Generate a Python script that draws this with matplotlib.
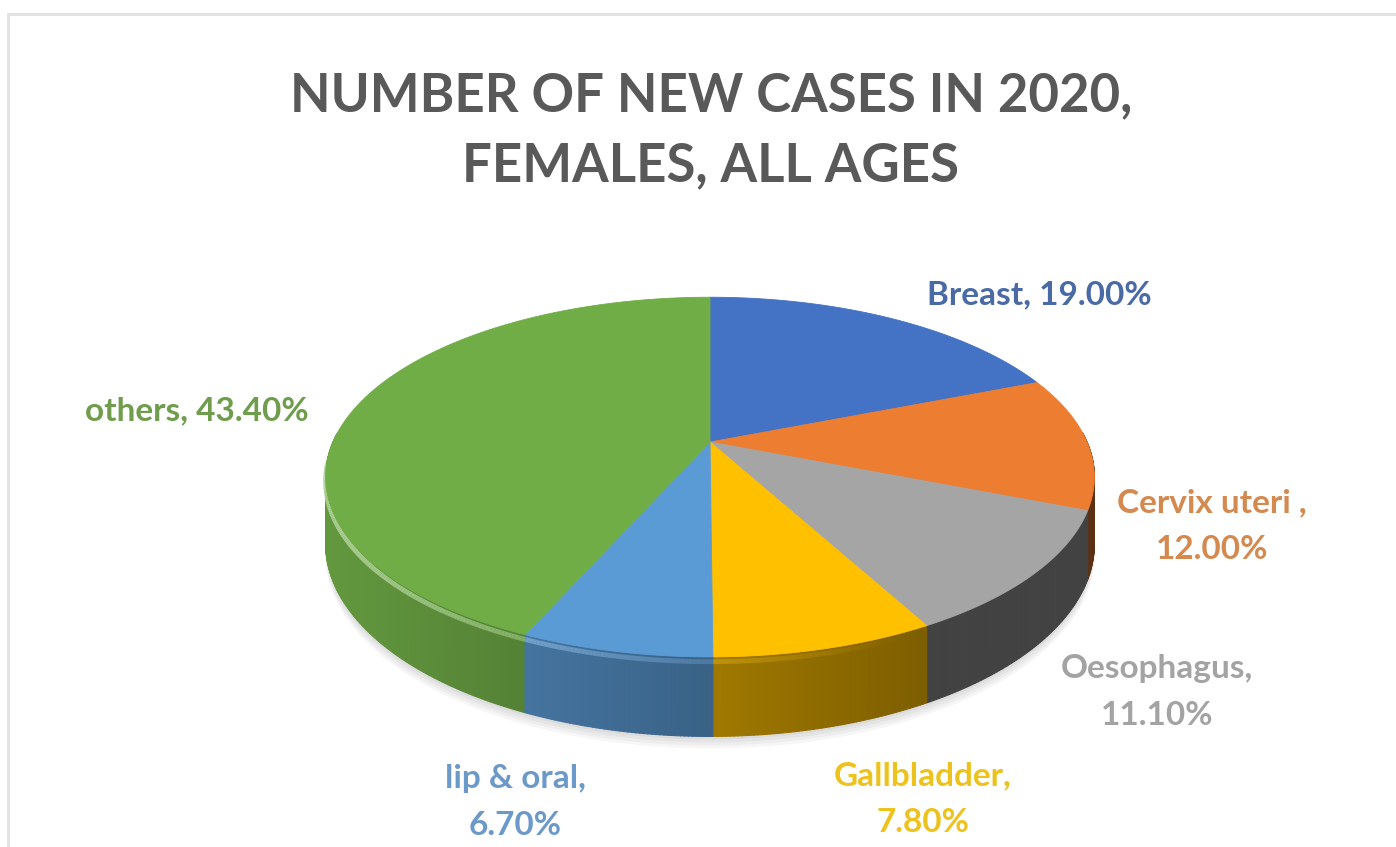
import numpy as np
import matplotlib.pyplot as plt
from matplotlib.patches import Polygon
from matplotlib.collections import PolyCollection, LineCollection
from matplotlib.colors import to_rgb

# Data
categorias = ['Breast', 'Cervix uteri ', 'Oesophagus', 'Gallbladder', 'lip & oral', 'others']
valores = [19.0, 12.0, 11.1, 7.8, 6.7, 43.4]
quebra_linha = [False, True, True, True, True, False]
titulo = ['NUMBER OF NEW CASES IN 2020,', 'FEMALES, ALL AGES']

cores = ['#4472C4', '#ED7D31', '#A5A5A5', '#FFC000', '#5B9BD5', '#70AD47']
cores_texto = ['#4a6aa6', '#d4894f', '#a3a3a3', '#eec21c', '#6b99c9', '#6f9d4c']
# label anchor (center x, first baseline)
pos_rotulos = [(1039, 304), (1212, 512), (1157, 678), (923, 785), (515, 788), (197, 420)]

W, H = 1396, 847
cx, cy = 710, 442     # pie center on screen
B, A = 377, 173       # radii of the top disc
k = 0.195             # perspective factor
D = 64                # thickness
FONTE = 'Lato'


def proj(ang, z=0.0):
    # ang: degrees clockwise from 12 o'clock, z: 0 top, 1 bottom
    a = np.radians(ang)
    u, v = np.sin(a), np.cos(a)
    s = 1.0 / (1.0 + k * v)
    return cx + B * u * s, cy - A * v * s + z * D * s


fig = plt.figure(figsize=(W / 100, H / 100), dpi=100)
ax = fig.add_axes([0, 0, 1, 1])
ax.set_xlim(0, W)
ax.set_ylim(H, 0)
ax.axis('off')

# frame
ax.plot([8, 8, W], [H, 14, 14], color='#e3e3e3', lw=2.2, solid_capstyle='butt')

limites = np.concatenate([[0], np.cumsum(valores)]) * 3.6

# soft shadow under the pie
angs_all = np.linspace(90, 270, 200)
for off in [3, 6, 9, 12]:
    xs, ys = proj(angs_all, 1.0)
    xs2, ys2 = proj(angs_all[::-1], 0.6)
    pts = list(zip(xs, ys + off)) + list(zip(xs2, ys2))
    ax.add_patch(Polygon(pts, closed=True, fc='#000000', ec='none', alpha=0.035, zorder=1))

# sides
xmin, xmax = cx - 384, cx + 384
quads, cores_lado, prof = [], [], []
for i in range(len(valores)):
    angs = np.append(np.arange(limites[i], limites[i + 1], 0.5), limites[i + 1])
    for a1, a2 in zip(angs[:-1], angs[1:]):
        am = (a1 + a2) / 2
        v = np.cos(np.radians(am))
        if v > 0.05:
            continue
        x1, y1 = proj(a1)
        x2, y2 = proj(a2)
        x3, y3 = proj(a2, 1)
        x4, y4 = proj(a1, 1)
        p = ((x1 + x2) / 2 - xmin) / (xmax - xmin)
        f = 0.88 - 0.5 * p
        if cores[i] == '#A5A5A5':
            f = 0.4
        quads.append([(x1, y1), (x2, y2), (x3, y3), (x4, y4)])
        cores_lado.append(np.clip(np.array(to_rgb(cores[i])) * f, 0, 1))
        prof.append(v)

ordem = np.argsort(prof)[::-1]
quads = [quads[j] for j in ordem]
cores_lado = [cores_lado[j] for j in ordem]
ax.add_collection(PolyCollection(quads, facecolors=cores_lado, edgecolors=cores_lado,
                                 linewidths=0.8, zorder=2))

# rim highlight on the front edge
segs, cores_brilho = [], []
for i in range(len(valores)):
    angs = np.append(np.arange(limites[i], limites[i + 1], 0.5), limites[i + 1])
    for a1, a2 in zip(angs[:-1], angs[1:]):
        if np.cos(np.radians((a1 + a2) / 2)) > -0.1:
            continue
        x1, y1 = proj(a1, 0.06)
        x2, y2 = proj(a2, 0.06)
        p = ((x1 + x2) / 2 - xmin) / (xmax - xmin)
        t = max(0.0, 0.45 - 0.6 * p)
        c = np.array(to_rgb(cores[i]))
        c = c * (1 - t) + np.ones(3) * t
        segs.append([(x1, y1), (x2, y2)])
        cores_brilho.append((*c, min(1.0, t * 2.2)))
ax.add_collection(LineCollection(segs, colors=cores_brilho, linewidths=3.5, zorder=3))

# top surface
for i in range(len(valores)):
    angs = np.linspace(limites[i], limites[i + 1], 200)
    xs, ys = proj(angs)
    pts = [(cx, cy)] + list(zip(xs, ys))
    ax.add_patch(Polygon(pts, closed=True, fc=cores[i], ec=cores[i], lw=0.6, zorder=4))

# title
for n, linha in enumerate(titulo):
    ax.text(711, 111 + n * 70, linha, ha='center', va='baseline', fontsize=38,
            fontweight='bold', color='#595959', family=FONTE)

# data labels
for i, cat in enumerate(categorias):
    sep = '\n' if quebra_linha[i] else ' '
    rotulo = f'{cat},{sep}{valores[i]:.2f}%'
    x0, y0 = pos_rotulos[i]
    for n, linha in enumerate(rotulo.split('\n')):
        ax.text(x0, y0 + n * 47, linha, ha='center', va='baseline', fontsize=24,
                fontweight='bold', color=cores_texto[i], family=FONTE)

fig.savefig('out.png', dpi=100)
